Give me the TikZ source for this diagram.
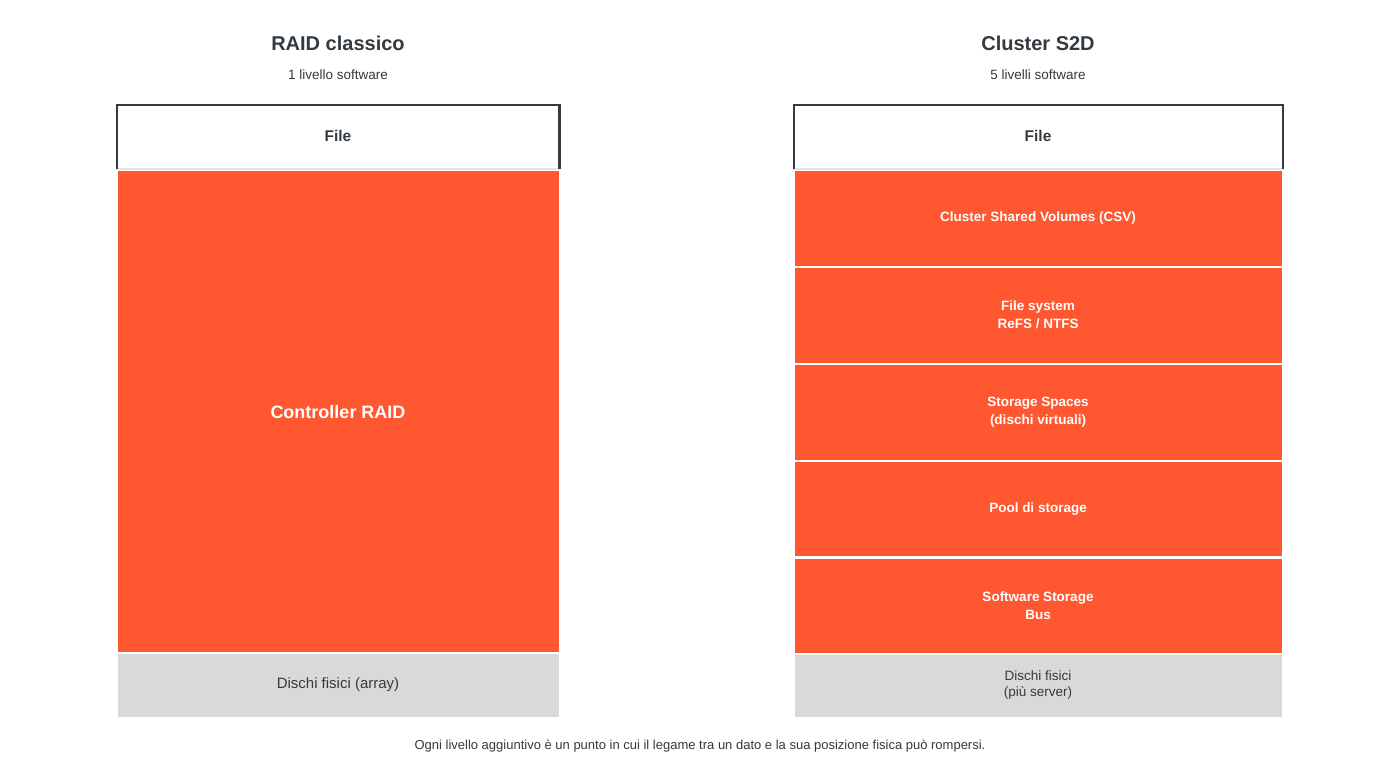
\documentclass[tikz,border=0pt]{standalone}
\usepackage{fontspec}
\setmainfont{Liberation Sans}
\definecolor{org}{HTML}{FF5730}
\definecolor{gr}{HTML}{D9D9D9}
\definecolor{dk}{HTML}{333A40}
\begin{document}
\begin{tikzpicture}[x=1pt,y=-1pt,
  lay/.style={fill=org,draw=none},
  lt/.style={text=white,font=\fontsize{13.5}{18}\selectfont\bfseries,align=center},
  gt/.style={text=dk,font=\fontsize{13.5}{16}\selectfont,align=center}]
\useasboundingbox[fill=white] (0,0) rectangle (1400,770);
% left
\node[font=\fontsize{20}{24}\selectfont\bfseries,text=dk] (lt) at (338,43) {RAID classico};
\node[font=\fontsize{13.5}{16}\selectfont,text=dk] (ls) at (338,75) {1 livello software};
\draw[gr!70,line width=1.5] (117,169) -- (559,169);
\draw[dk,line width=2.5] (117,169) -- (117,105) -- (559.5,105) -- (559.5,169);
\node[font=\fontsize{15.5}{18}\selectfont\bfseries,text=dk] (lf) at (338,136) {File};
\fill[org] (118,171) rectangle (559,652);
\node[text=white,font=\fontsize{18}{22}\selectfont\bfseries] (lc) at (338,412) {Controller RAID};
\fill[gr] (118,654) rectangle (559,717);
\node[gt,font=\fontsize{15}{18}\selectfont] (ld) at (338,685) {Dischi fisici (array)};
% right
\node[font=\fontsize{20}{24}\selectfont\bfseries,text=dk] (rt) at (1038,43) {Cluster S2D};
\node[font=\fontsize{13.5}{16}\selectfont,text=dk] (rs) at (1038,75) {5 livelli software};
\draw[gr!70,line width=1.5] (794,169) -- (1283,169);
\draw[dk,line width=2.5] (794,169) -- (794,105) -- (1283,105) -- (1283,169);
\node[font=\fontsize{15.5}{18}\selectfont\bfseries,text=dk] (rf) at (1038,136) {File};
\fill[org] (795,171) rectangle (1282,266);
\node[lt] (r1) at (1038,218.5) {Cluster Shared Volumes (CSV)};
\fill[org] (795,268) rectangle (1282,363);
\node[lt] (r2) at (1038,315) {File system\\ReFS / NTFS};
\fill[org] (795,365) rectangle (1282,460);
\node[lt] (r3) at (1038,412) {Storage Spaces\\(dischi virtuali)};
\fill[org] (795,462) rectangle (1282,556);
\node[lt] (r4) at (1038,509) {Pool di storage};
\fill[org] (795,559) rectangle (1282,653);
\node[lt] (r5) at (1038,606) {Software Storage\\Bus};
\fill[gr] (795,655) rectangle (1282,717);
\node[gt] (rd) at (1038,685) {Dischi fisici\\(più server)};
\node[font=\fontsize{13}{16}\selectfont,text=dk] (cap) at (700,746) {Ogni livello aggiuntivo è un punto in cui il legame tra un dato e la sua posizione fisica può rompersi.};
\end{tikzpicture}
\end{document}
